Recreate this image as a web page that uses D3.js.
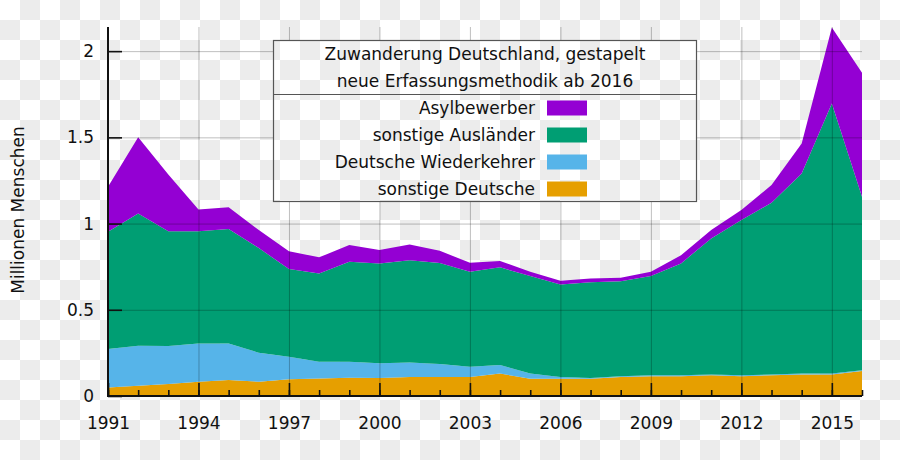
<!DOCTYPE html>
<html>
<head>
<meta charset="utf-8">
<script src="https://cdn.jsdelivr.net/npm/d3@7"></script>
<style>
  html, body { margin: 0; padding: 0; }
  svg { display: block; font-family: "DejaVu Sans", sans-serif; }
</style>
</head>
<body>
<svg id="chart" width="900" height="460"></svg>
<script>
// ---- data (millions) ----
const years = [1991,1992,1993,1994,1995,1996,1997,1998,1999,2000,2001,2002,2003,2004,2005,2006,2007,2008,2009,2010,2011,2012,2013,2014,2015,2016];
const sonstigeDeutsche = [0.050,0.060,0.070,0.083,0.093,0.083,0.097,0.102,0.106,0.105,0.110,0.110,0.110,0.130,0.100,0.100,0.100,0.110,0.115,0.115,0.120,0.115,0.120,0.125,0.125,0.145];
const deutscheWiederkehrer = [0.222,0.232,0.220,0.222,0.212,0.168,0.131,0.097,0.093,0.085,0.085,0.075,0.060,0.050,0.030,0.010,0.005,0.005,0.005,0.005,0.005,0.005,0.005,0.005,0.005,0.005];
const sonstigeAuslaender = [0.680,0.767,0.665,0.650,0.663,0.607,0.508,0.512,0.580,0.579,0.593,0.586,0.551,0.566,0.566,0.537,0.554,0.550,0.576,0.649,0.789,0.900,0.996,1.161,1.567,1.006];
const asylbewerber = [0.262,0.441,0.330,0.127,0.126,0.104,0.104,0.093,0.096,0.077,0.091,0.071,0.052,0.037,0.025,0.021,0.023,0.021,0.025,0.048,0.048,0.058,0.102,0.174,0.440,0.718];

const seriesNames = ["sonstige Deutsche","Deutsche Wiederkehrer","sonstige Ausländer","Asylbewerber"];
const seriesColors = ["#e69f00","#56b4e9","#009e73","#9400d3"];
const yTicks = [0, 0.5, 1, 1.5, 2];
const yTickLabels = ["0","0.5","1","1.5","2"];
const xMajorTicks = [1991,1994,1997,2000,2003,2006,2009,2012,2015];
const titleLines = ["Zuwanderung Deutschland, gestapelt","neue Erfassungsmethodik ab 2016"];
const yAxisTitle = "Millionen Menschen";

// ---- build table ----
const seriesArrays = [sonstigeDeutsche, deutscheWiederkehrer, sonstigeAuslaender, asylbewerber];
const table = years.map((y, i) => {
  const row = { year: y };
  seriesNames.forEach((n, k) => row[n] = seriesArrays[k][i]);
  return row;
});

const FS = "17px";
const svg = d3.select("#chart");
const W = 900, H = 460;
const m = { left: 108, right: 38, top: 27, bottom: 64 };

// checkerboard background
const defs = svg.append("defs");
const pat = defs.append("pattern").attr("id","checker").attr("patternUnits","userSpaceOnUse")
  .attr("width",40).attr("height",40);
pat.append("rect").attr("width",40).attr("height",40).attr("fill","#ffffff");
pat.append("rect").attr("x",20).attr("y",0).attr("width",20).attr("height",20).attr("fill","#ececec");
pat.append("rect").attr("x",0).attr("y",20).attr("width",20).attr("height",20).attr("fill","#ececec");
svg.append("rect").attr("width",W).attr("height",H).attr("fill","url(#checker)");

const x = d3.scaleLinear().domain([1991, 2016]).range([m.left, W - m.right]);
const y = d3.scaleLinear().domain([0, 2.14]).range([H - m.bottom, m.top]);

const stack = d3.stack().keys(seriesNames);
const stacked = stack(table);

const area = d3.area()
  .x(d => x(d.data.year))
  .y0(d => y(d[0]))
  .y1(d => y(d[1]));

svg.append("g").selectAll("path").data(stacked).join("path")
  .attr("d", area)
  .attr("fill", (d, i) => seriesColors[i]);

// grid
const grid = svg.append("g").attr("stroke","#000").attr("stroke-opacity",0.25).attr("stroke-width",1);
grid.selectAll("line.v").data(xMajorTicks.slice(1)).join("line")
  .attr("x1", d => x(d) + 0.5).attr("x2", d => x(d) + 0.5)
  .attr("y1", y.range()[1]).attr("y2", y.range()[0]);
grid.selectAll("line.h").data(yTicks.slice(1)).join("line")
  .attr("x1", x.range()[0]).attr("x2", x.range()[1])
  .attr("y1", d => y(d) + 0.5).attr("y2", d => y(d) + 0.5);

// legend box (opaque with background pattern)
const lg = { x: 273.5, y: 40.5, w: 423, h: 161, sep: 94.5 };
svg.append("rect").attr("x", lg.x).attr("y", lg.y).attr("width", lg.w).attr("height", lg.h)
  .attr("fill","url(#checker)").attr("stroke","#555").attr("stroke-width",1.2);
svg.append("line").attr("x1", lg.x).attr("x2", lg.x + lg.w).attr("y1", lg.sep).attr("y2", lg.sep)
  .attr("stroke","#555").attr("stroke-width",1.2);
svg.append("g").selectAll("text").data(titleLines).join("text")
  .attr("x", lg.x + lg.w / 2).attr("y", (d, i) => 54 + i * 27.5)
  .attr("dy","0.35em").attr("text-anchor","middle")
  .attr("font-size", FS).attr("fill","#111").text(d => d);

const legendOrder = [3, 2, 1, 0];
const le = svg.append("g").selectAll("g").data(legendOrder).join("g")
  .attr("transform", (d, i) => `translate(0,${108 + i * 27})`);
le.append("text").attr("x", 535).attr("dy","0.35em").attr("text-anchor","end")
  .attr("font-size", FS).attr("fill","#111").text(d => seriesNames[d]);
le.append("rect").attr("x", 547).attr("y", -7.5).attr("width", 40).attr("height", 15)
  .attr("fill", d => seriesColors[d]);

// axes
const yAxis = d3.axisLeft(y).tickValues(yTicks).tickFormat((d, i) => yTickLabels[i])
  .tickSizeInner(-14).tickSizeOuter(0).tickPadding(14);
const gy = svg.append("g").attr("transform", `translate(${m.left},0)`).call(yAxis);
gy.select(".domain").remove();
gy.selectAll(".tick line").attr("stroke","#111").attr("stroke-width",1.6);
gy.selectAll(".tick text").attr("font-size", FS).attr("fill","#111").attr("font-family","DejaVu Sans");

const xMinor = d3.axisBottom(x).tickValues(years).tickFormat("").tickSizeInner(-6).tickSizeOuter(0);
const gxm = svg.append("g").attr("transform", `translate(0,${H - m.bottom})`).call(xMinor);
gxm.select(".domain").remove();
gxm.selectAll(".tick line").attr("stroke","#111").attr("stroke-width",1.6);

const xAxis = d3.axisBottom(x).tickValues(xMajorTicks).tickFormat(d3.format("d"))
  .tickSizeInner(-13).tickSizeOuter(0).tickPadding(20.5);
const gx = svg.append("g").attr("transform", `translate(0,${H - m.bottom})`).call(xAxis);
gx.select(".domain").remove();
gx.selectAll(".tick line").attr("stroke","#111").attr("stroke-width",1.6);
gx.selectAll(".tick text").attr("font-size", FS).attr("fill","#111").attr("font-family","DejaVu Sans");

// axis lines
svg.append("line").attr("x1", m.left).attr("x2", m.left).attr("y1", y.range()[1]).attr("y2", y.range()[0] + 1)
  .attr("stroke","#111").attr("stroke-width",2);
svg.append("line").attr("x1", m.left - 1).attr("x2", x.range()[1]).attr("y1", y.range()[0]).attr("y2", y.range()[0])
  .attr("stroke","#111").attr("stroke-width",2);

// y title
svg.append("text").attr("transform", `translate(18,210) rotate(-90)`)
  .attr("text-anchor","middle").attr("dy","0.35em")
  .attr("font-size", FS).attr("fill","#111").text(yAxisTitle);
</script>
</body>
</html>
